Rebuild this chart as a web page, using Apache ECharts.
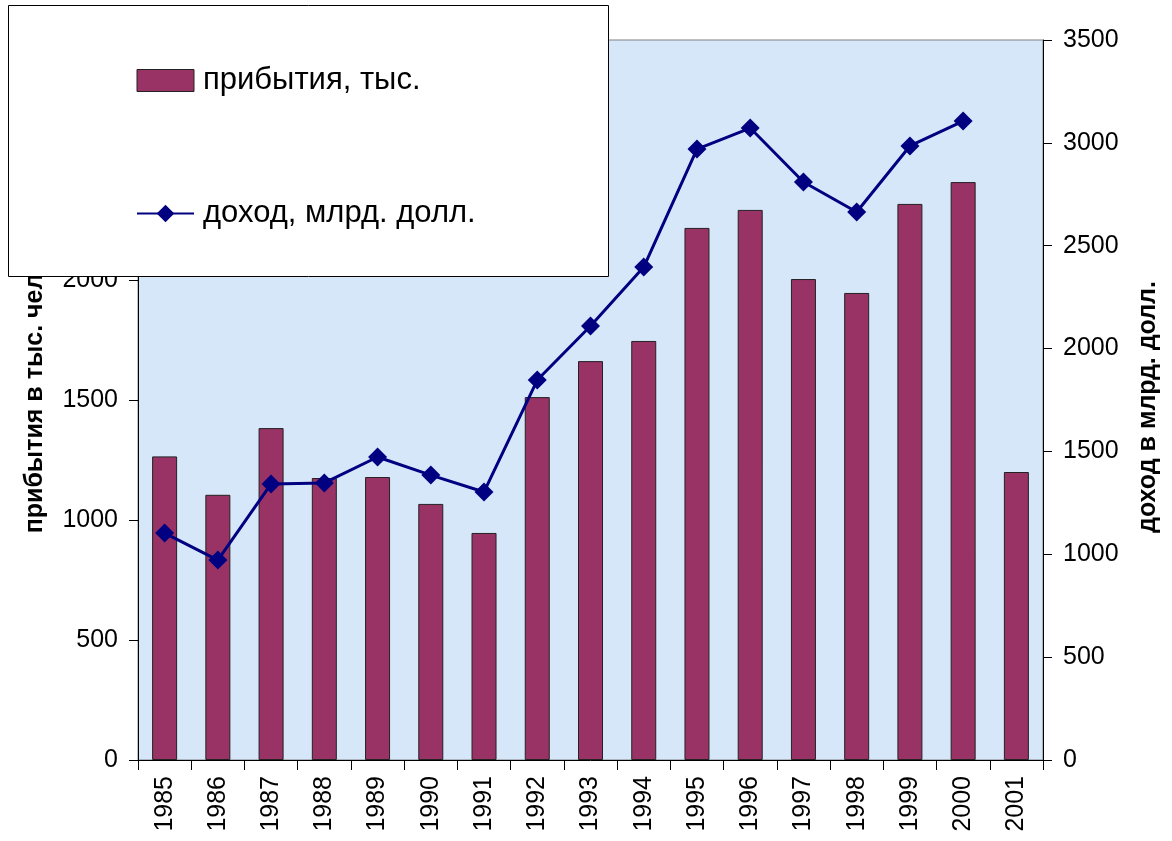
<!DOCTYPE html>
<html>
<head>
<meta charset="utf-8">
<script src="https://cdn.jsdelivr.net/npm/echarts@6/dist/echarts.min.js"></script>
<style>
  html, body { margin: 0; padding: 0; background: #ffffff; }
  #chart { width: 1172px; height: 841px; }
</style>
</head>
<body>
<div id="chart"></div>
<script>
const years = ['1985','1986','1987','1988','1989','1990','1991','1992','1993','1994','1995','1996','1997','1998','1999','2000','2001'];
const arrivals = [1265, 1105, 1383, 1175, 1179, 1067, 946, 1512, 1662, 1746, 2217, 2292, 2004, 1946, 2317, 2408, 1200];
const income = [1103, 972, 1342, 1347, 1473, 1385, 1303, 1847, 2110, 2396, 2970, 3072, 2810, 2664, 2985, 3106, null];
const seriesNames = ['прибытия, тыс.', 'доход, млрд. долл.'];
const leftAxisName = 'прибытия в тыс. чел.';
const rightAxisName = 'доход в млрд. долл.';

const font = '"Liberation Sans", Arial, sans-serif';
const chart = echarts.init(document.getElementById('chart'), null, { renderer: 'canvas' });
const plain = v => String(v);

chart.setOption({
  animation: false,
  backgroundColor: '#ffffff',
  textStyle: { fontFamily: font, color: '#000' },
  grid: {
    left: 138, right: 129, top: 40, bottom: 81,
    show: true,
    backgroundColor: '#d6e7fa',
    borderColor: '#808080',
    borderWidth: 1
  },
  graphic: [{
    type: 'rect',
    z: 100,
    shape: { x: 8.5, y: 5.5, width: 600, height: 271 },
    style: { fill: '#ffffff', stroke: '#000000', lineWidth: 1 }
  }],
  legend: {
    z: 200,
    orient: 'vertical',
    left: 131,
    top: 60,
    itemGap: 102,
    itemWidth: 57,
    itemHeight: 22,
    textStyle: { fontFamily: font, fontSize: 31, color: '#000', padding: [0, 0, 0, 4] },
    data: [
      { name: seriesNames[0], icon: 'rect', itemStyle: { color: '#993366', borderColor: '#222', borderWidth: 1 } },
      { name: seriesNames[1] }
    ]
  },
  xAxis: {
    type: 'category',
    data: years,
    axisLine: { lineStyle: { color: '#000', width: 1 } },
    axisTick: { show: true, length: 10, lineStyle: { color: '#000' } },
    axisLabel: { rotate: 90, fontSize: 25, color: '#000', margin: 16, fontFamily: font, interval: 0 },
    splitLine: { show: false }
  },
  yAxis: [
    {
      type: 'value', min: 0, max: 3000, interval: 500,
      name: leftAxisName,
      nameLocation: 'middle',
      nameRotate: 90,
      nameGap: 90,
      nameTextStyle: { fontSize: 25, fontWeight: 'bold', color: '#000', fontFamily: font, padding: [0, 0, 0, 0] },
      axisLine: { show: true, lineStyle: { color: '#000' } },
      axisTick: { show: true, length: 9, lineStyle: { color: '#000' } },
      axisLabel: { fontSize: 25, color: '#000', margin: 20, fontFamily: font, formatter: plain },
      splitLine: { show: false }
    },
    {
      type: 'value', min: 0, max: 3500, interval: 500,
      name: rightAxisName,
      nameLocation: 'middle',
      nameRotate: 90,
      nameGap: 93,
      nameTextStyle: { fontSize: 25, fontWeight: 'bold', color: '#000', fontFamily: font, padding: [0, 14, 0, 0] },
      axisLine: { show: true, lineStyle: { color: '#000' } },
      axisTick: { show: true, length: 9, lineStyle: { color: '#000' } },
      axisLabel: { fontSize: 25, color: '#000', margin: 20, fontFamily: font, formatter: plain },
      splitLine: { show: false }
    }
  ],
  series: [
    {
      name: seriesNames[0],
      type: 'bar',
      yAxisIndex: 0,
      data: arrivals,
      barWidth: 25,
      itemStyle: { color: '#993366', borderColor: '#222', borderWidth: 1 }
    },
    {
      name: seriesNames[1],
      type: 'line',
      yAxisIndex: 1,
      data: income,
      symbol: 'diamond',
      symbolSize: 19,
      lineStyle: { color: '#000080', width: 3 },
      itemStyle: { color: '#000080' }
    }
  ]
});
</script>
</body>
</html>
